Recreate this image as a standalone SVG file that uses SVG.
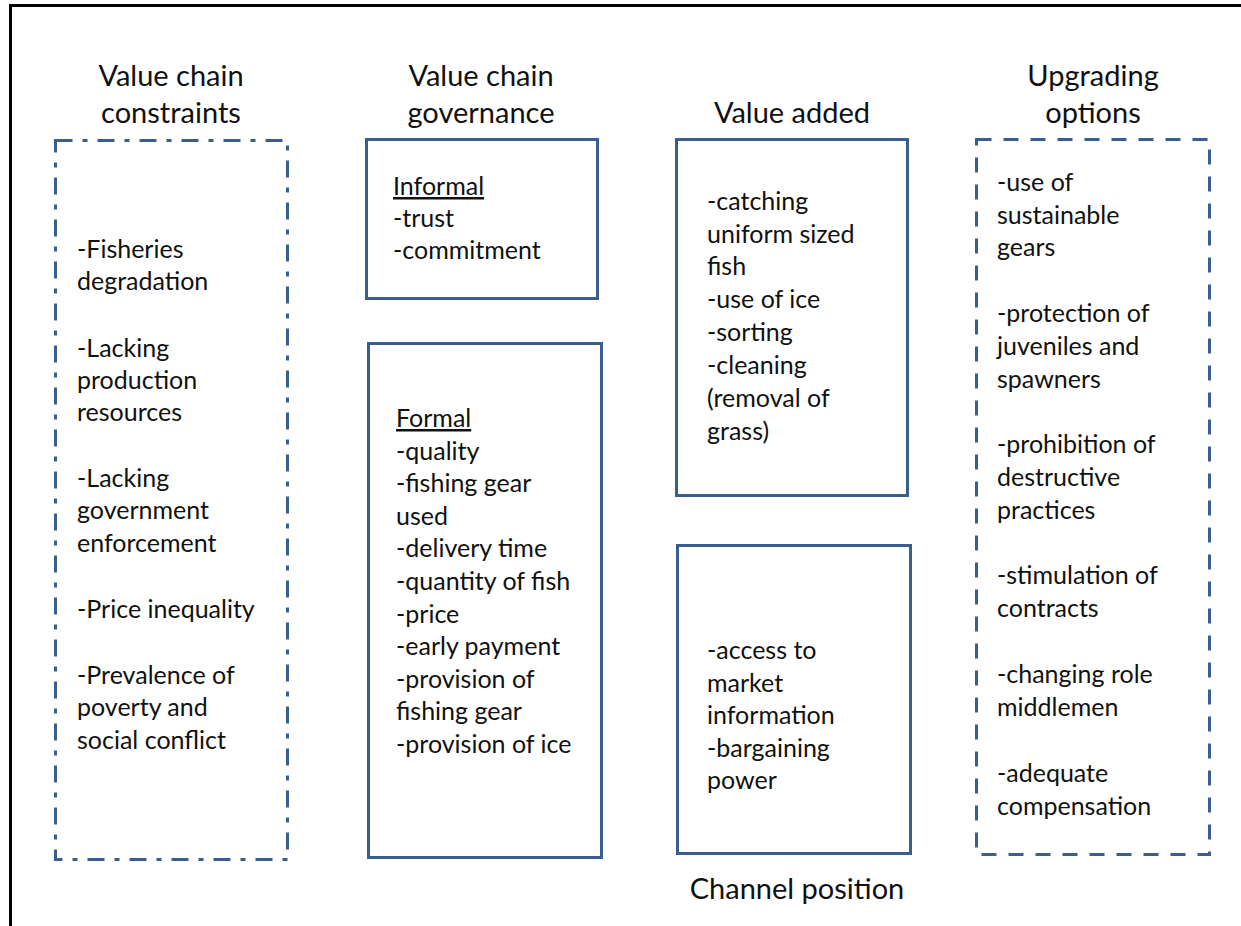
<svg xmlns="http://www.w3.org/2000/svg" width="1241" height="926" viewBox="0 0 1241 926">
<style>
text{font-family:Lato,"Open Sans","Liberation Sans",sans-serif;font-size:25px;fill:#111}
.h{text-anchor:middle;font-size:29px}
.box{fill:none;stroke:#3a5f8e;stroke-width:3}
.dd{stroke-dasharray:17 10 5 10}
.da{stroke-dasharray:15 12}
.u{text-decoration:underline}
</style>
<rect width="1241" height="926" fill="#fff"/>
<path d="M10.5 926 V5.5 H1241" fill="none" stroke="#000" stroke-width="3"/>
<g id="headings">
<text class="h" x="171" y="86">Value chain</text>
<text class="h" x="171" y="123">constraints</text>
<text class="h" x="481" y="86">Value chain</text>
<text class="h" x="481" y="123">governance</text>
<text class="h" x="792" y="123">Value added</text>
<text class="h" x="1093" y="86">Upgrading</text>
<text class="h" x="1093" y="123">options</text>
<text class="h" x="797" y="899">Channel position</text>
</g>
<g id="constraints">
<rect class="box dd" x="55.5" y="140.5" width="232" height="719"/>
<text x="77" y="258">-Fisheries</text>
<text x="77" y="290">degradation</text>
<text x="77" y="357">-Lacking</text>
<text x="77" y="389">production</text>
<text x="77" y="421">resources</text>
<text x="77" y="487">-Lacking</text>
<text x="77" y="519">government</text>
<text x="77" y="552">enforcement</text>
<text x="77" y="618">-Price inequality</text>
<text x="77" y="684">-Prevalence of</text>
<text x="77" y="716">poverty and</text>
<text x="77" y="749">social conflict</text>
</g>
<g id="informal">
<rect class="box" x="366.5" y="139.5" width="231" height="159"/>
<text x="393" y="195" class="u">Informal</text>
<text x="393" y="227">-trust</text>
<text x="393" y="259">-commitment</text>
</g>
<g id="formal">
<rect class="box" x="368.5" y="343.5" width="233" height="514"/>
<text x="396" y="427" class="u">Formal</text>
<text x="396" y="460">-quality</text>
<text x="396" y="492">-fishing gear</text>
<text x="396" y="525">used</text>
<text x="396" y="557">-delivery time</text>
<text x="396" y="590">-quantity of fish</text>
<text x="396" y="623">-price</text>
<text x="396" y="655">-early payment</text>
<text x="396" y="688">-provision of</text>
<text x="396" y="720">fishing gear</text>
<text x="396" y="753">-provision of ice</text>
</g>
<g id="value-added">
<rect class="box" x="676.5" y="139.5" width="231" height="356"/>
<text x="707" y="210">-catching</text>
<text x="707" y="243">uniform sized</text>
<text x="707" y="275">fish</text>
<text x="707" y="308">-use of ice</text>
<text x="707" y="341">-sorting</text>
<text x="707" y="374">-cleaning</text>
<text x="707" y="407">(removal of</text>
<text x="707" y="440">grass)</text>
</g>
<g id="channel">
<rect class="box" x="677.5" y="545.5" width="233" height="308"/>
<text x="707" y="659">-access to</text>
<text x="707" y="692">market</text>
<text x="707" y="724">information</text>
<text x="707" y="757">-bargaining</text>
<text x="707" y="789">power</text>
</g>
<g id="upgrading">
<rect class="box da" x="976.5" y="139.5" width="233" height="715"/>
<text x="997" y="191">-use of</text>
<text x="997" y="224">sustainable</text>
<text x="997" y="256">gears</text>
<text x="997" y="322">-protection of</text>
<text x="997" y="355">juveniles and</text>
<text x="997" y="388">spawners</text>
<text x="997" y="453">-prohibition of</text>
<text x="997" y="486">destructive</text>
<text x="997" y="519">practices</text>
<text x="997" y="584">-stimulation of</text>
<text x="997" y="617">contracts</text>
<text x="997" y="683">-changing role</text>
<text x="997" y="716">middlemen</text>
<text x="997" y="782">-adequate</text>
<text x="997" y="815">compensation</text>
</g>
<g id="connectors"/>
</svg>
